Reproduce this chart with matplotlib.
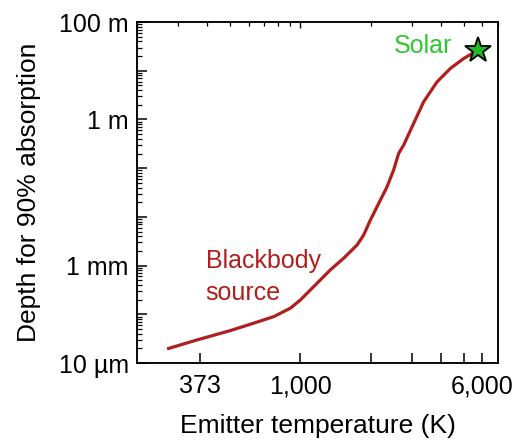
import matplotlib
matplotlib.use("Agg")
import matplotlib.pyplot as plt
from matplotlib.ticker import FixedLocator, NullFormatter, NullLocator

plt.rcParams["font.family"] = ["Liberation Sans", "DejaVu Sans"]

# Emitter temperature (K) and depth for 90% absorption (m)
temp_k = [269, 362, 502, 631, 769, 906, 1000, 1140, 1343, 1531, 1747, 1865,
          1991, 2198, 2347, 2504, 2631, 2763, 3050, 3365, 3839, 4375, 4988, 5735]
depth_m = [1.96e-5, 3.0e-5, 4.66e-5, 6.6e-5, 9.0e-5, 1.34e-4, 1.98e-4, 3.72e-4,
           8.2e-4, 1.42e-3, 2.66e-3, 4.26e-3, 8.6e-3, 0.0222, 0.0416, 0.0914,
           0.201, 0.297, 0.831, 2.30, 5.90, 11.1, 17.8, 26.3]
solar_t = 5735
solar_depth = 26.3

x_ticks = [373, 1000, 2000, 3000, 4000, 5000, 6000]
x_labels = ["373", "1,000", "", "", "", "", "6,000"]
y_ticks = [1e-5, 1e-4, 1e-3, 1e-2, 1e-1, 1e0, 1e1, 1e2]
y_labels = ["10 µm", "", "1 mm", "", "", "1 m", "", "100 m"]

red = "#B01E1E"
green = "#2DC82D"

fig = plt.figure(figsize=(5.19, 4.45), dpi=100)
ax = fig.add_axes([0.264, 0.184, 0.6955, 0.7665])
ax.set_xscale("log")
ax.set_yscale("log")
ax.set_xlim(200, 7000)
ax.set_ylim(1e-5, 1e2)

ax.plot(temp_k, depth_m, color=red, lw=2.3, solid_capstyle="butt",
        solid_joinstyle="round", zorder=3)
ax.plot([solar_t], [solar_depth], marker="*", ms=19, mfc="#22B822",
        mec="black", mew=1.3, zorder=4, clip_on=False)

ax.text(393, 2.2e-3, "Blackbody\nsource", color=red, fontsize=18,
        ha="left", va="top", linespacing=1.4)
ax.text(4464, 23.6, "Solar", color=green, fontsize=18, ha="right", va="baseline")

# bottom axis: only the listed temperatures
ax.xaxis.set_major_locator(FixedLocator(x_ticks))
ax.set_xticklabels(x_labels)
ax.xaxis.set_minor_locator(NullLocator())
ax.yaxis.set_major_locator(FixedLocator(y_ticks))
ax.set_yticklabels(y_labels)
ax.yaxis.set_minor_locator(FixedLocator(
    [m * 10.0 ** e for e in range(-5, 2) for m in range(2, 10)]))
ax.yaxis.set_minor_formatter(NullFormatter())

ax.tick_params(axis="x", which="major", direction="in", length=7, width=1.1,
               labelsize=18, pad=8, top=False)
ax.tick_params(axis="y", which="major", direction="in", length=7, width=1.1,
               labelsize=18, pad=6, right=False)
ax.tick_params(axis="y", which="minor", direction="in", length=3.5, width=0.9,
               right=False)

# top axis carries the usual log ticks
top = ax.twiny()
top.set_xscale("log")
top.set_xlim(ax.get_xlim())
top.xaxis.set_major_locator(FixedLocator([1000]))
top.xaxis.set_minor_locator(FixedLocator(
    [200, 300, 400, 500, 600, 700, 800, 900, 2000, 3000, 4000, 5000, 6000, 7000]))
top.xaxis.set_major_formatter(NullFormatter())
top.xaxis.set_minor_formatter(NullFormatter())
top.tick_params(axis="x", which="major", direction="in", length=4, width=1.0)
top.tick_params(axis="x", which="minor", direction="in", length=3, width=0.9)

for a in (ax, top):
    for s in a.spines.values():
        s.set_linewidth(1.1)

ax.set_xlabel("Emitter temperature (K)", fontsize=19, labelpad=11)
ax.set_ylabel("Depth for 90% absorption", fontsize=19, labelpad=13)

fig.savefig("out.png", dpi=100)
